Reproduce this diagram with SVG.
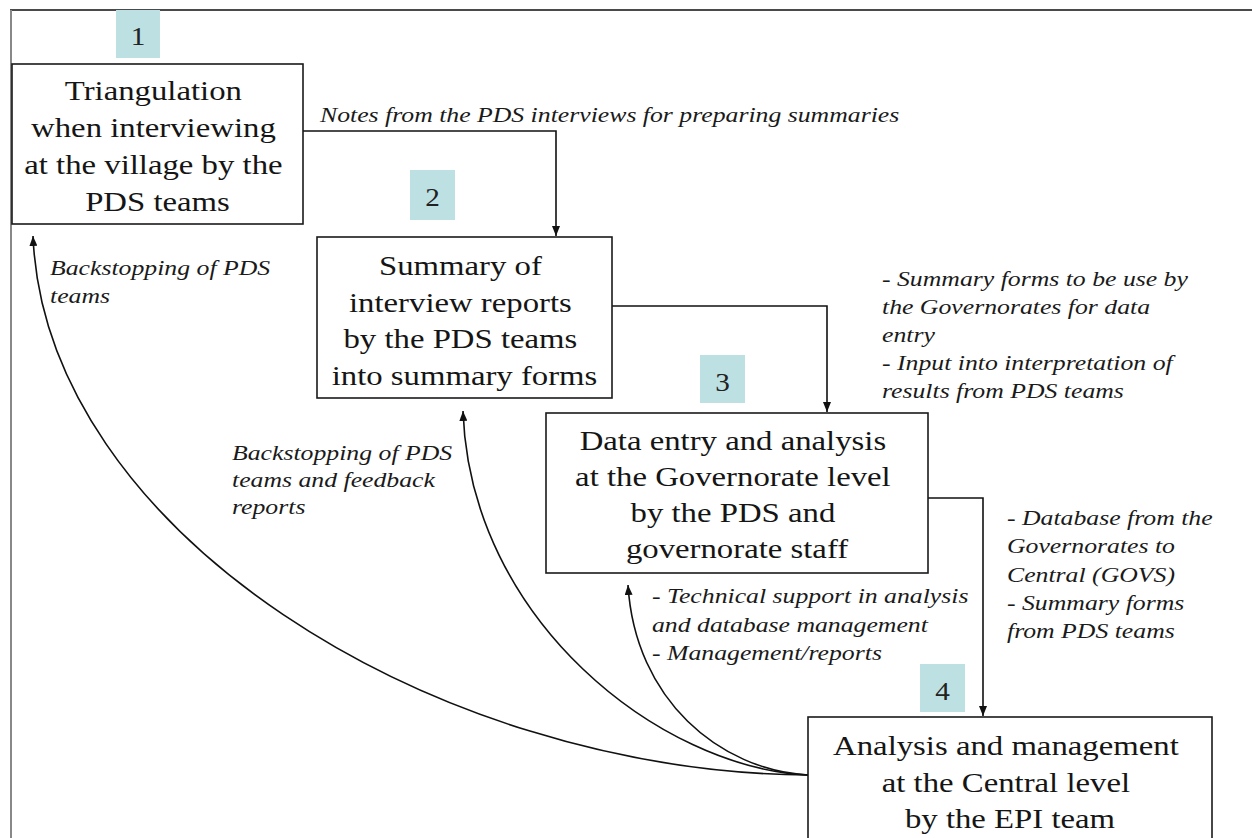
<svg xmlns="http://www.w3.org/2000/svg" width="1252" height="838" viewBox="0 0 1252 838">
  <style>
    .box { fill: #ffffff; stroke: #1a1a1a; stroke-width: 1.6; }
    .num { fill: #bde0e2; stroke: none; }
    .numtxt { font-family: "Liberation Serif", "Times New Roman", serif; font-size: 25px; fill: #222; text-anchor: middle; }
    .ntxt { font-family: "Liberation Serif", "Times New Roman", serif; font-size: 28px; fill: #151515; text-anchor: middle; }
    .lbl { font-family: "Liberation Serif", "Times New Roman", serif; font-size: 22px; font-style: italic; fill: #1a1a1a; }
    .edge { fill: none; stroke: #111; stroke-width: 1.6; }
    .curve { fill: none; stroke: #111; stroke-width: 1.6; }
  </style>
  <defs>
    <marker id="arrow" viewBox="0 0 10 8" refX="10" refY="4" markerWidth="10" markerHeight="8" markerUnits="userSpaceOnUse" orient="auto">
      <path d="M0,0 L10,4 L0,8 z" fill="#111"/>
    </marker>
  </defs>

  <rect x="0" y="0" width="1252" height="838" fill="#ffffff"/>

  <!-- page frame -->
  <g id="frame">
    <line x1="10" y1="10" x2="1252" y2="10" stroke="#4a4a4a" stroke-width="2"/>
    <line x1="11" y1="10" x2="11" y2="838" stroke="#888" stroke-width="2"/>
  </g>

  <!-- connectors -->
  <g id="connectors">
    <path class="edge" d="M303,131 H556 V236" marker-end="url(#arrow)"/>
    <path class="edge" d="M612,306 H827 V412" marker-end="url(#arrow)"/>
    <path class="edge" d="M928,498 H983 V716" marker-end="url(#arrow)"/>
    <path class="curve" d="M808,775 C430,772 45,530 33,236" marker-end="url(#arrow)"/>
    <path class="curve" d="M808,775 C660,768 470,620 463,411" marker-end="url(#arrow)"/>
    <path class="curve" d="M808,775 C720,770 635,700 628,585" marker-end="url(#arrow)"/>

    <g transform="translate(320 0) scale(1.17 1)">
      <text class="lbl"><tspan x="0" y="122">Notes from the PDS interviews for preparing summaries</tspan></text>
    </g>
    <g transform="translate(882 0) scale(1.17 1)">
      <text class="lbl">
        <tspan x="0" y="286">- Summary forms to be use by</tspan>
        <tspan x="0" y="314">the Governorates for data</tspan>
        <tspan x="0" y="342">entry</tspan>
        <tspan x="0" y="370">- Input into interpretation of</tspan>
        <tspan x="0" y="398">results from PDS teams</tspan>
      </text>
    </g>
    <g transform="translate(1007 0) scale(1.17 1)">
      <text class="lbl">
        <tspan x="0" y="525">- Database from the</tspan>
        <tspan x="0" y="553">Governorates to</tspan>
        <tspan x="0" y="582">Central (GOVS)</tspan>
        <tspan x="0" y="610">- Summary forms</tspan>
        <tspan x="0" y="638">from PDS teams</tspan>
      </text>
    </g>
    <g transform="translate(50 0) scale(1.17 1)">
      <text class="lbl">
        <tspan x="0" y="275">Backstopping of PDS</tspan>
        <tspan x="0" y="303">teams</tspan>
      </text>
    </g>
    <g transform="translate(232 0) scale(1.17 1)">
      <text class="lbl">
        <tspan x="0" y="460">Backstopping of PDS</tspan>
        <tspan x="0" y="487">teams and feedback</tspan>
        <tspan x="0" y="514">reports</tspan>
      </text>
    </g>
    <g transform="translate(652 0) scale(1.17 1)">
      <text class="lbl">
        <tspan x="0" y="603">- Technical support in analysis</tspan>
        <tspan x="0" y="632">and database management</tspan>
        <tspan x="0" y="660">- Management/reports</tspan>
      </text>
    </g>
  </g>

  <!-- step 1 -->
  <g id="node1">
    <rect class="num" x="116" y="10" width="44" height="48"/>
    <g transform="translate(138 0) scale(1.17 1)"><text class="numtxt" x="0" y="45">1</text></g>
    <rect class="box" x="12" y="64" width="291" height="160"/>
    <g transform="translate(157.5 0) scale(1.17 1)">
      <text class="ntxt">
        <tspan x="0" y="100">Triangulation</tspan>
        <tspan x="0" y="137">when interviewing</tspan>
        <tspan x="0" y="174">at the village by the</tspan>
        <tspan x="0" y="211">PDS teams</tspan>
      </text>
    </g>
  </g>

  <!-- step 2 -->
  <g id="node2">
    <rect class="num" x="410" y="170" width="45" height="50"/>
    <g transform="translate(432.5 0) scale(1.17 1)"><text class="numtxt" x="0" y="206">2</text></g>
    <rect class="box" x="317" y="237" width="295" height="161"/>
    <g transform="translate(464.5 0) scale(1.17 1)">
      <text class="ntxt">
        <tspan x="0" y="275">Summary of</tspan>
        <tspan x="0" y="312">interview reports</tspan>
        <tspan x="0" y="348">by the PDS teams</tspan>
        <tspan x="0" y="385">into summary forms</tspan>
      </text>
    </g>
  </g>

  <!-- step 3 -->
  <g id="node3">
    <rect class="num" x="700" y="355" width="45" height="48"/>
    <g transform="translate(722.5 0) scale(1.17 1)"><text class="numtxt" x="0" y="391">3</text></g>
    <rect class="box" x="546" y="413" width="382" height="160"/>
    <g transform="translate(737 0) scale(1.17 1)">
      <text class="ntxt">
        <tspan x="0" y="450">Data entry and analysis</tspan>
        <tspan x="0" y="486">at the Governorate level</tspan>
        <tspan x="0" y="522">by the PDS and</tspan>
        <tspan x="0" y="558">governorate staff</tspan>
      </text>
    </g>
  </g>

  <!-- step 4 -->
  <g id="node4">
    <rect class="num" x="920" y="664" width="45" height="48"/>
    <g transform="translate(942.5 0) scale(1.17 1)"><text class="numtxt" x="0" y="700">4</text></g>
    <rect class="box" x="808" y="717" width="404" height="140"/>
    <g transform="translate(1010 0) scale(1.17 1)">
      <text class="ntxt">
        <tspan x="0" y="755">Analysis and management</tspan>
        <tspan x="0" y="792">at the Central level</tspan>
        <tspan x="0" y="828">by the EPI team</tspan>
      </text>
    </g>
  </g>
</svg>
